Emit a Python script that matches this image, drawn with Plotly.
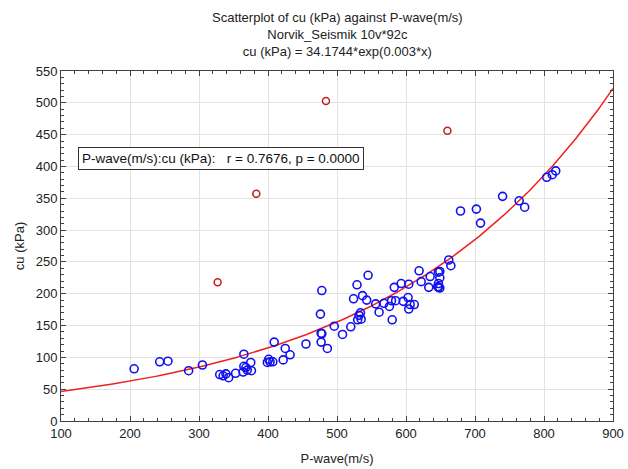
import numpy as np
import plotly.graph_objects as go

# Data
pwave = [206, 243, 255, 285, 305, 330, 335, 339, 343, 353, 365, 365, 368, 364, 370,
         375, 376, 399, 401, 403, 407, 409, 422, 425, 432, 455, 476, 477, 478, 477,
         478, 486, 496, 508, 520, 524, 529, 530, 532, 534, 535, 537, 543, 545, 556,
         561, 568, 576, 579, 580, 583, 585, 593, 596, 603, 604, 604, 606, 612, 619,
         622, 633, 635, 646, 647, 647, 649, 647, 649, 649, 662, 665, 679, 702, 708,
         740, 764, 772, 804, 812, 817]
cu = [82, 93, 94, 79, 88, 73, 71, 74, 68, 75, 105, 86, 84, 77, 80,
      92, 79, 92, 97, 93, 93, 124, 96, 114, 104, 121, 168, 138, 137, 124,
      205, 114, 149, 136, 148, 192, 214, 159, 166, 170, 160, 197, 190, 229, 184,
      171, 185, 180, 189, 159, 210, 189, 216, 188, 194, 215, 176, 183, 183, 236,
      219, 210, 227, 211, 216, 210, 209, 234, 235, 225, 253, 244, 330, 333, 311,
      353, 346, 336, 383, 387, 393]

out_pwave = [327, 383, 484, 660]
out_cu = [218, 357, 503, 456]

FIT_A = 34.1744
FIT_B = 0.00303

x_ticks = [100, 200, 300, 400, 500, 600, 700, 800, 900]
y_ticks = [0, 50, 100, 150, 200, 250, 300, 350, 400, 450, 500, 550]

xf = np.linspace(100, 900, 300)
yf = FIT_A * np.exp(FIT_B * xf)

FONT = "Liberation Sans, Arial, sans-serif"

fig = go.Figure()
fig.add_trace(go.Scatter(x=xf, y=yf, mode="lines",
                         line=dict(color="#F02020", width=1.5),
                         showlegend=False, hoverinfo="skip"))
fig.add_trace(go.Scatter(x=pwave, y=cu, mode="markers",
                         marker=dict(symbol="circle-open", size=8,
                                     color="#1010F0", line=dict(width=1.6)),
                         showlegend=False))
fig.add_trace(go.Scatter(x=out_pwave, y=out_cu, mode="markers",
                         marker=dict(symbol="circle-open", size=7,
                                     color="#C02020", line=dict(width=1.5)),
                         showlegend=False))

axis_common = dict(
    showline=True, linecolor="#404040", linewidth=1, mirror="allticks",
    ticks="inside", ticklen=5, tickcolor="#404040",
    showgrid=True, gridcolor="#E2E2E2", gridwidth=1,
    zeroline=False, automargin=False,
    tickfont=dict(family=FONT, size=13, color="#222222"),
)

fig.update_layout(
    width=628, height=469,
    margin=dict(l=61, r=15, t=71, b=48, autoexpand=False),
    paper_bgcolor="white", plot_bgcolor="white",
    font=dict(family=FONT, size=12, color="#222222"),
    xaxis=dict(range=[100, 900], tickvals=x_ticks,
               minor=dict(dtick=20, ticks="inside", ticklen=3, tickcolor="#404040", showgrid=False),
               title=dict(text="P-wave(m/s)", font=dict(family=FONT, size=13), standoff=14),
               **axis_common),
    yaxis=dict(range=[0, 550], tickvals=y_ticks,
               minor=dict(dtick=10, ticks="inside", ticklen=3, tickcolor="#404040", showgrid=False),
               title=dict(text="cu (kPa)", font=dict(family=FONT, size=13), standoff=8),
               **axis_common),
    annotations=[
        dict(text="Scatterplot of cu (kPa) against P-wave(m/s)<br>Norvik_Seismik 10v*92c<br>cu (kPa) = 34.1744*exp(0.003*x)",
             xref="paper", yref="paper", x=0.5, y=1.0, yshift=10, xanchor="center", yanchor="bottom",
             showarrow=False, align="center", font=dict(family=FONT, size=13, color="#222222")),
        dict(text="P-wave(m/s):cu (kPa):   r = 0.7676, p = 0.0000",
             xref="paper", yref="paper", x=(78 - 61) / 552, y=(421 - 158) / 350,
             xanchor="left", yanchor="middle", showarrow=False,
             bgcolor="white", bordercolor="#333333", borderwidth=1, borderpad=3,
             font=dict(family=FONT, size=13.5, color="#111111")),
    ],
)

fig.write_html("out.html")
